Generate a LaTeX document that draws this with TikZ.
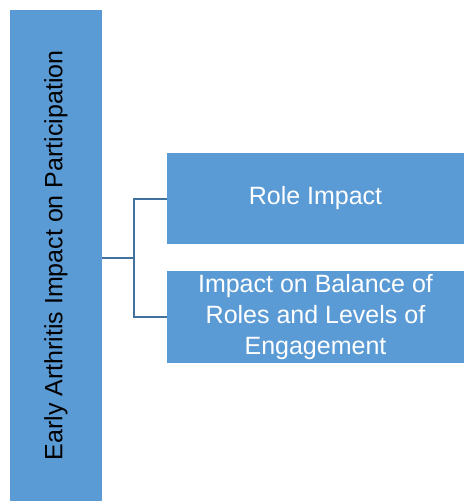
\documentclass[tikz,border=0pt]{standalone}
\usepackage{fontspec}
\setmainfont{Liberation Sans}
\definecolor{boxblue}{HTML}{5B9BD5}
\definecolor{linkblue}{HTML}{41719C}

\begin{document}
\begin{tikzpicture}[x=1pt,y=-1pt,
  box/.style={rectangle,fill=boxblue,inner sep=0pt,align=center,
    font=\fontsize{25}{31}\selectfont},
  link/.style={draw=linkblue,line width=2pt}]
\useasboundingbox (0,0) rectangle (464,501);
% root box
\node[box,minimum width=92pt,minimum height=491pt] (root) at (56,255.5) {};
\node[rotate=90,font=\fontsize{25}{31}\selectfont] (rootlabel) at (root.center) {Early Arthritis Impact on Participation};
% child boxes
\node[box,text=white,minimum width=297pt,minimum height=91pt] (role) at (315.5,198.5) {Role Impact};
\node[box,text=white,minimum width=297pt,minimum height=92pt] (balance) at (315.5,317) {Impact on Balance of\\Roles and Levels of\\Engagement};
% connectors
\coordinate (fork) at (134,258);
\draw[link] (fork -| root.east) -- (fork);
\draw[link] (fork) |- (role.west);
\draw[link] (fork) |- (balance.west);
\end{tikzpicture}
\end{document}
